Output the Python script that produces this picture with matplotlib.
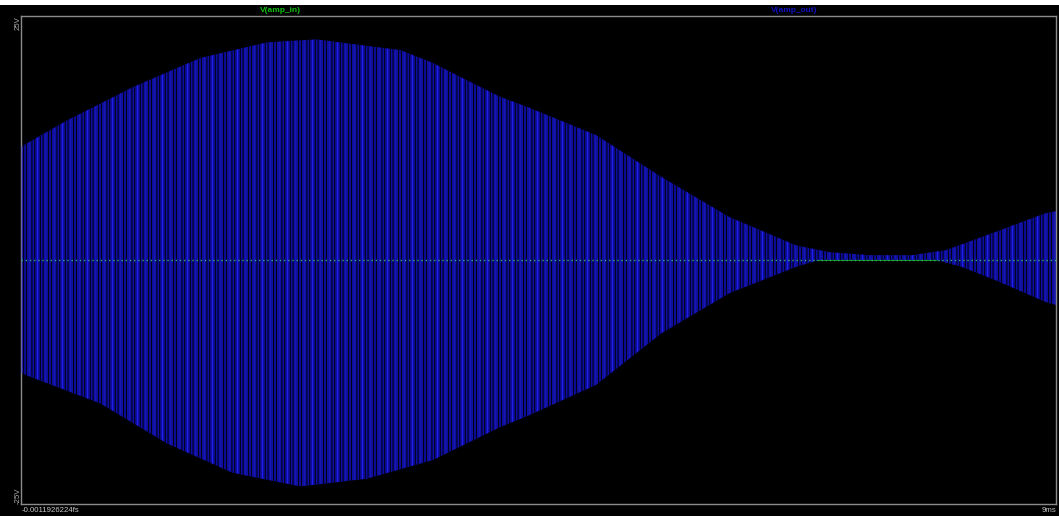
import matplotlib
matplotlib.use("Agg")
import matplotlib.pyplot as plt
from matplotlib.patches import Rectangle

# --- data ---
# V(amp_out) envelope: upper edge
t_upper = [0.0, 0.40, 0.97, 1.56, 2.14, 2.57, 3.30, 3.58, 3.88, 4.17, 4.42,
           5.00, 5.57, 6.16, 6.74, 7.03, 7.38, 7.75, 8.04, 8.48, 8.91, 9.0]
v_upper = [11.6, 14.3, 17.7, 20.7, 22.3, 22.6, 21.5, 20.2, 18.4, 16.7, 15.6,
           12.8, 8.5, 4.4, 1.5, 0.8, 0.5, 0.5, 1.0, 2.9, 4.8, 5.0]
# V(amp_out) envelope: lower edge
t_lower = [0.0, 0.69, 1.27, 1.84, 2.43, 3.01, 3.58, 4.17, 4.42,
           5.00, 5.57, 6.16, 6.74, 6.94, 7.96, 8.18, 8.48, 8.91, 9.0]
v_lower = [-11.6, -14.7, -18.8, -21.8, -23.2, -22.4, -20.5, -17.1, -15.9,
           -12.8, -7.5, -3.4, -0.7, 0.0, 0.0, -0.7, -2.1, -4.3, -4.6]
amp_in_t = [0.0, 9.0]
amp_in_v = [0.0, 0.0]
y_tick_labels = ["25V", "-25V"]
x_tick_labels = ["-0.0011926224fs", "9ms"]
series_names = ["V(amp_in)", "V(amp_out)"]

W, H = 1059, 516
fig = plt.figure(figsize=(W / 100, H / 100), dpi=100, facecolor="black")
fig.patches.append(Rectangle((0, 1 - 5 / H), 1, 5 / H, transform=fig.transFigure,
                             facecolor="white", edgecolor="none", zorder=0))

L, R, T, B = 21, 1056, 16, 504
ax = fig.add_axes([L / W, 1 - B / H, (R - L) / W, (B - T) / H])
ax.set_facecolor("black")
ax.set_xlim(0, 9)
ax.set_ylim(-25, 25)
ax.set_xticks([])
ax.set_yticks([])
for s in ax.spines.values():
    s.set_color("#8a8a8a")
    s.set_linewidth(1)

# amp_in (solid underneath)
ax.plot(amp_in_t, amp_in_v, color="#10b020", lw=1.2, zorder=1)

# envelope polygon built from the two edges
poly_t = list(t_upper) + list(reversed(t_lower))
poly_v = list(v_upper) + list(reversed(v_lower))

plt.rcParams["hatch.linewidth"] = 0.7
ax.fill(poly_t, poly_v, facecolor="#0e0ea4", edgecolor="black",
        hatch="|" * 6, linewidth=0, zorder=2)
ax.fill(poly_t, poly_v, facecolor="none", edgecolor="#2020f0",
        hatch="|" * 2, linewidth=0, zorder=3)

# amp_in speckle on top
ax.plot(amp_in_t, amp_in_v, color="#30b070", lw=1.0, ls=(0, (1, 2)), zorder=4)

bold = dict(family=["Liberation Sans", "DejaVu Sans"], fontweight="bold", fontsize=6)
reg = dict(family=["Liberation Sans", "DejaVu Sans"], fontsize=5.6)
fig.text(280 / W, 1 - 11 / H, series_names[0], color="#10c010", ha="center", va="center", **bold)
fig.text(794 / W, 1 - 11 / H, series_names[1], color="#1010c0", ha="center", va="center", **bold)
fig.text(18 / W, 1 - 23 / H, y_tick_labels[0], color="#b0b0b0", rotation=90,
         ha="center", va="center", **reg)
fig.text(18 / W, 1 - 496 / H, y_tick_labels[1], color="#b0b0b0", rotation=90,
         ha="center", va="center", **reg)
fig.text(22 / W, 1 - 511 / H, x_tick_labels[0], color="#c8c8c8", ha="left", va="center", **reg)
fig.text(1056 / W, 1 - 511 / H, x_tick_labels[1], color="#c8c8c8", ha="right", va="center", **reg)

fig.savefig("out.png", dpi=100, facecolor=fig.get_facecolor())
